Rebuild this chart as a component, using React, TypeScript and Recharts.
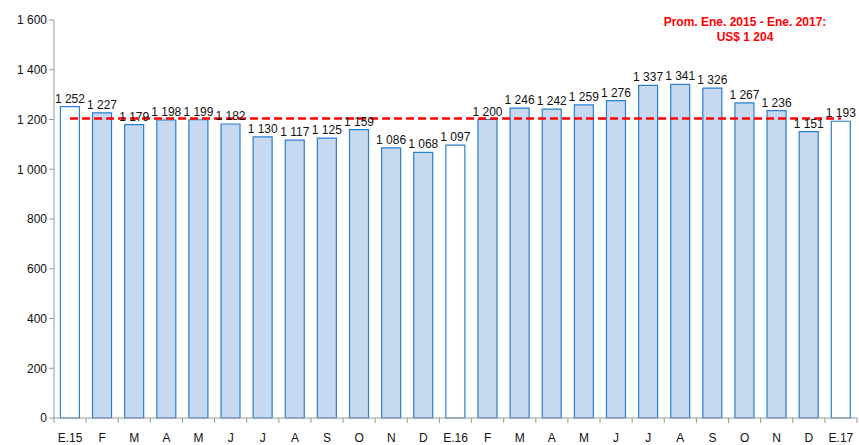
import React from "react";
import { BarChart, Bar, XAxis, YAxis, Cell, LabelList, ReferenceLine } from "recharts";

const categories = ["E.15", "F", "M", "A", "M", "J", "J", "A", "S", "O", "N", "D", "E.16", "F", "M", "A", "M", "J", "J", "A", "S", "O", "N", "D", "E.17"];
const prices = [1252, 1227, 1179, 1198, 1199, 1182, 1130, 1117, 1125, 1159, 1086, 1068, 1097, 1200, 1246, 1242, 1259, 1276, 1337, 1341, 1326, 1267, 1236, 1151, 1193];
const januaryKeys = ["E.15", "E.16", "E.17"];
const average = 1204;
const yTicks = [0, 200, 400, 600, 800, 1000, 1200, 1400, 1600];
const noteLines = ["Prom. Ene. 2015 - Ene. 2017:", "US$ 1 204"];

const data = categories.map((c, i) => ({ key: `${i}`, label: c, value: prices[i] }));

const fmt = (v: number) => {
  const s = String(Math.round(v));
  return s.replace(/\B(?=(\d{3})+(?!\d))/g, " ");
};

const FONT = "'Liberation Sans', Arial, sans-serif";
const WIDTH = 859;
const HEIGHT = 445;
const LEFT = 54;
const RIGHT = 2;
const BAND = (WIDTH - LEFT - RIGHT) / categories.length;

const XTick = (props: any) => {
  const { x, y, payload } = props;
  const idx = Number(payload.value);
  const lab = categories[idx];
  const isLast = idx === categories.length - 1;
  return (
    <g>
      <line x1={x - BAND / 2} y1={y - 8} x2={x - BAND / 2} y2={y - 3} stroke="#999" />
      {isLast && <line x1={x + BAND / 2} y1={y - 8} x2={x + BAND / 2} y2={y - 3} stroke="#999" />}
      <text x={x} y={y + 16} textAnchor="middle" fontSize={12} fontFamily={FONT} fill="#111">
        {lab}
      </text>
    </g>
  );
};

const ValueLabel = (props: any) => {
  const { x, y, width, value } = props;
  return (
    <text x={x + width / 2} y={y - 4} textAnchor="middle" fontSize={12} fontFamily={FONT} fill="#111">
      {fmt(Number(value))}
    </text>
  );
};

export default function App() {
  return (
    <div style={{ position: "fixed", left: 0, top: 0, width: WIDTH, height: HEIGHT, background: "#fff" }}>
      <BarChart
        width={WIDTH}
        height={HEIGHT}
        data={data}
        margin={{ top: 20, right: RIGHT, bottom: 0, left: 0 }}
        barCategoryGap="20%"
      >
        <XAxis
          dataKey="key"
          interval={0}
          tickLine={false}
          axisLine={{ stroke: "#999" }}
          height={27}
          tick={<XTick />}
        />
        <YAxis
          domain={[0, 1600]}
          ticks={yTicks}
          width={LEFT}
          tickFormatter={fmt}
          axisLine={{ stroke: "#999" }}
          tickLine={{ stroke: "#999" }}
          tickSize={5}
          tick={{ fontSize: 12, fontFamily: FONT, fill: "#111" }}
        />
        <Bar dataKey="value" stroke="#2A7FCF" strokeWidth={1.2} isAnimationActive={false}>
          {data.map((d) => (
            <Cell key={d.key} fill={januaryKeys.includes(d.label) ? "#FFFFFF" : "#C6D9F1"} />
          ))}
          <LabelList dataKey="value" content={<ValueLabel />} />
        </Bar>
        <ReferenceLine
          segment={[
            { x: data[0].key, y: average },
            { x: data[data.length - 1].key, y: average },
          ]}
          stroke="#FF0000"
          strokeWidth={2.5}
          strokeDasharray="8 4"
        />
      </BarChart>
      <div
        style={{
          position: "absolute",
          left: 645,
          top: 15,
          width: 200,
          textAlign: "center",
          color: "#FF0000",
          fontWeight: "bold",
          fontSize: 12,
          lineHeight: "15px",
          fontFamily: FONT,
        }}
      >
        {noteLines.map((l) => (
          <div key={l}>{l}</div>
        ))}
      </div>
    </div>
  );
}
